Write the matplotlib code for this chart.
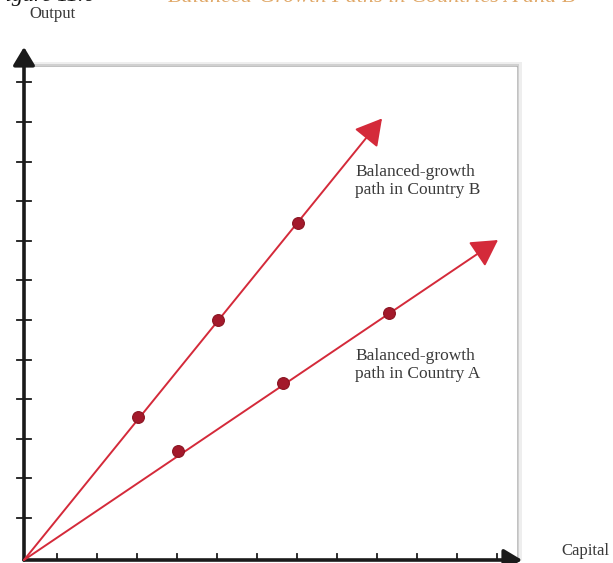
import matplotlib
matplotlib.use("Agg")
import matplotlib.pyplot as plt
from matplotlib.patches import FancyArrowPatch
import numpy as np

# ---- data (in tick-spacing units, origin at 0,0) ----
b_x = [2.85, 4.85, 6.85]
b_y = [3.62, 6.07, 8.52]
b_tip = (8.95, 11.15)
a_x = [3.85, 6.48, 9.13]
a_y = [2.75, 4.47, 6.24]
a_tip = (11.85, 8.08)
x_ticks = [0.82 + k for k in range(12)]
y_ticks = [1.06 + k for k in range(12)]
label_b = "Balanced-growth\npath in Country B"
label_a = "Balanced-growth\npath in Country A"
x_label = "Capital"
y_label = "Output"
title_black = "Figure 11.6"
title_tan = "Balanced-Growth Paths in Countries A and B"

W, H = 613, 563
fig = plt.figure(figsize=(W / 100, H / 100), dpi=100)
ax = fig.add_axes([0, 0, 1, 1])
ox, oy, sx, sy = 24, 560, 40.0, 39.6
ax.set_xlim(-ox / sx, (W - ox) / sx)
ax.set_ylim(-(H - oy) / sy, oy / sy)
ax.axis("off")

serif = ["Liberation Serif", "DejaVu Serif"]

# gray panel shadow (top and right edges)
bx1 = (516 - ox) / sx
by1 = (oy - 67) / sy
for lw, c, a in [(11, "#e4e4e4", 0.6), (6, "#cdcdcd", 0.9), (3, "#b4b4b4", 1.0)]:
    ax.plot([0, bx1, bx1], [by1, by1, 0], color=c, lw=lw * 0.72, alpha=a,
            solid_capstyle="butt", solid_joinstyle="miter", zorder=1)
ax.fill([0, bx1, bx1, 0], [0, 0, by1, by1], color="white", zorder=1.5)

# axes with arrows
x_end = (522 - ox) / sx
y_end = (oy - 47) / sy
for end in [(x_end, 0), (0, y_end)]:
    ax.add_patch(FancyArrowPatch((0, 0), end, arrowstyle="-|>,head_length=5,head_width=3",
                                 mutation_scale=2.2, color="#1a1a1a", lw=2.6, zorder=3,
                                 shrinkA=0, shrinkB=0, clip_on=False))
for t in x_ticks:
    ax.plot([t, t], [0, 6 / sy], color="#1a1a1a", lw=1.3, zorder=3, clip_on=False)
for t in y_ticks:
    ax.plot([-7 / sx, 7 / sx], [t, t], color="#1a1a1a", lw=1.3, zorder=3)

# growth paths
red = "#d42a3a"
dot = "#a3192b"
for xs, ys, tip in [(b_x, b_y, b_tip), (a_x, a_y, a_tip)]:
    ax.add_patch(FancyArrowPatch((0, 0), tip, arrowstyle="-|>,head_length=6,head_width=3.4",
                                 mutation_scale=2.7, color=red, lw=1.4, zorder=4,
                                 shrinkA=0, shrinkB=0))
    ax.plot(xs, ys, "o", color=dot, ms=8.5, mec="#8a1522", mew=0.8, zorder=5)

txt = "#3a3a3a"
ax.text((355 - ox) / sx, (oy - 164) / sy, label_b, family=serif, fontsize=12.5,
        color=txt, va="top", ha="left", linespacing=1.2, zorder=6)
ax.text((355 - ox) / sx, (oy - 348) / sy, label_a, family=serif, fontsize=12.5,
        color=txt, va="top", ha="left", linespacing=1.2, zorder=6)
ax.text((561 - ox) / sx, (oy - 551) / sy, x_label, family=serif, fontsize=12,
        color=txt, va="center", ha="left", zorder=6)
ax.text((29 - ox) / sx, (oy - 14) / sy, y_label, family=serif, fontsize=12,
        color=txt, va="center", ha="left", zorder=6)

# cut-off figure caption at top edge
fig.text(-8 / W, 1 - 1.5 / H, title_black, family=serif, style="italic", fontsize=16,
         color="#111111", va="baseline", ha="left")
fig.text(168 / W, 1 - 1.5 / H, title_tan, family=serif, style="italic", fontsize=16,
         color="#e0a868", va="baseline", ha="left")

fig.savefig("out.png", dpi=100)
